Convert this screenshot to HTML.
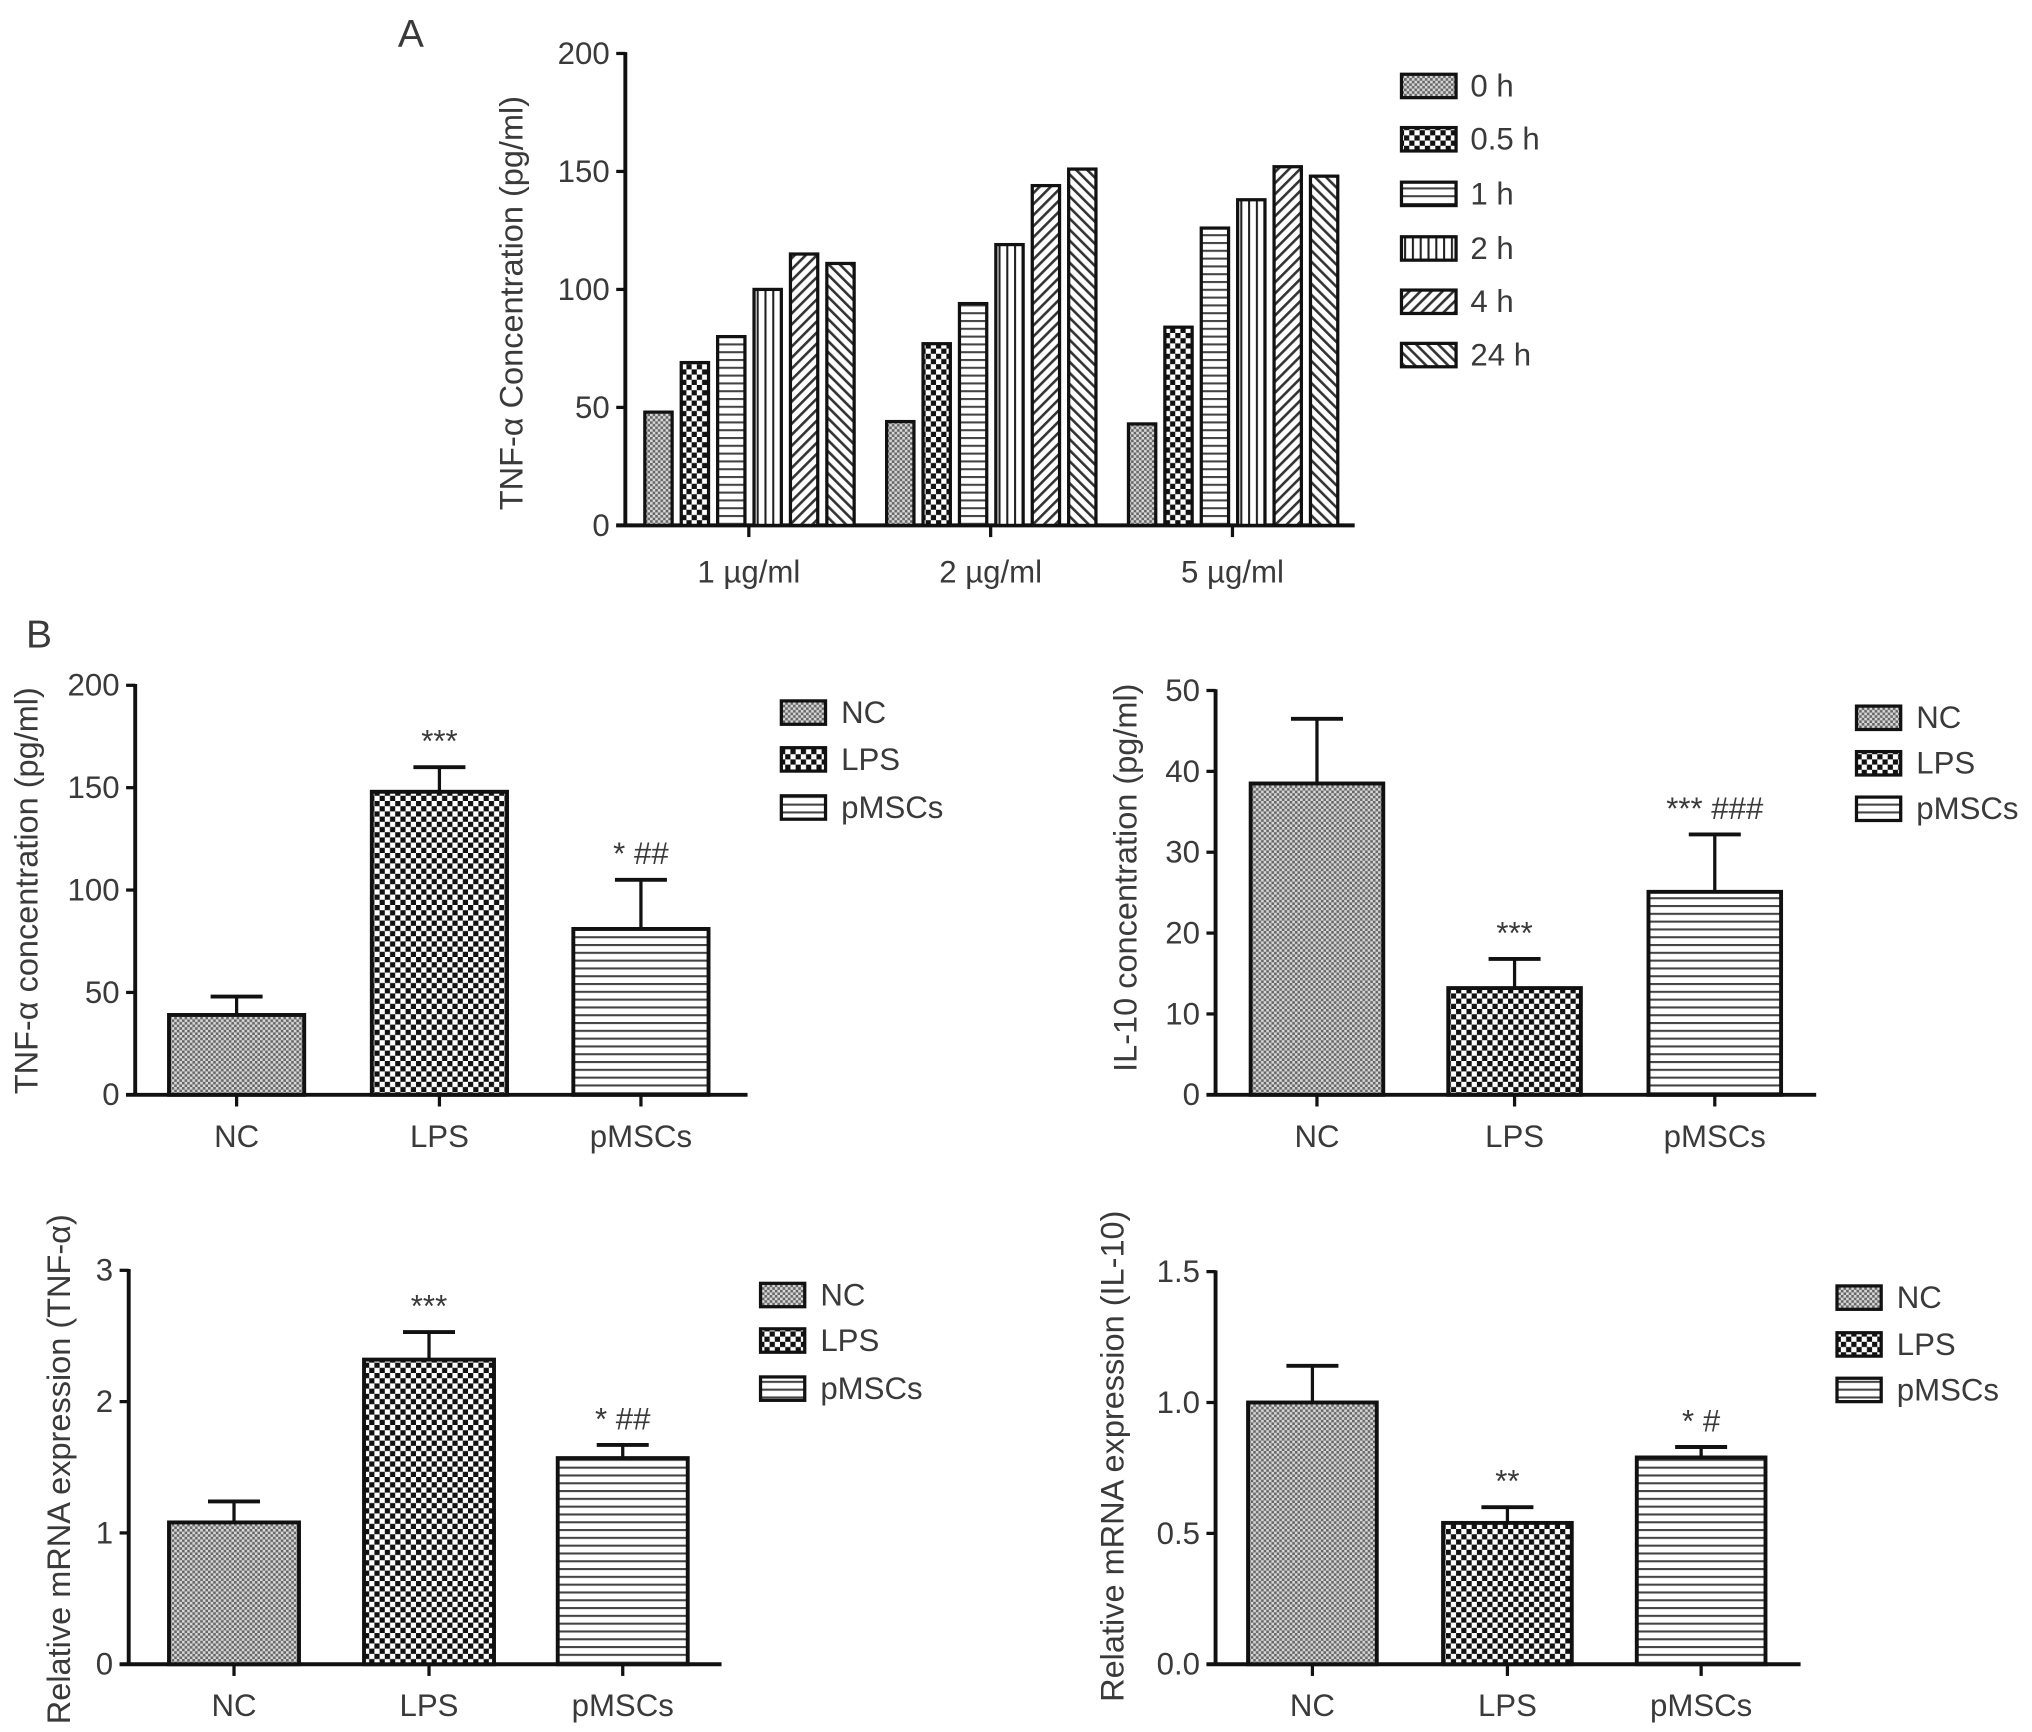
<!DOCTYPE html>
<html><head><meta charset="utf-8"><style>
html,body{margin:0;padding:0;background:#fff;}
svg{display:block;}
text{font-family:"Liberation Sans",sans-serif;fill:#3a3a3a;}
</style></head><body>
<svg id="fig" width="2032" height="1732" viewBox="0 0 1563 1332" xmlns="http://www.w3.org/2000/svg">
<defs>
<pattern id="p-fine" width="4" height="4" patternUnits="userSpaceOnUse">
<rect width="4" height="4" fill="#d8d8d8"/><rect width="2" height="2" fill="#666"/><rect x="2" y="2" width="2" height="2" fill="#666"/></pattern>
<pattern id="p-check" width="8" height="8" patternUnits="userSpaceOnUse">
<rect width="8" height="8" fill="#fff"/><rect width="4" height="4" fill="#111"/><rect x="4" y="4" width="4" height="4" fill="#111"/></pattern>
<pattern id="p-h" width="6" height="6" patternUnits="userSpaceOnUse">
<rect width="6" height="6" fill="#fff"/><rect width="6" height="1.6" fill="#444"/></pattern>
<pattern id="p-v" width="6" height="6" patternUnits="userSpaceOnUse">
<rect width="6" height="6" fill="#fff"/><rect width="1.6" height="6" fill="#222"/></pattern>
<pattern id="p-d1" width="6" height="6" patternUnits="userSpaceOnUse" patternTransform="rotate(45)">
<rect width="6" height="6" fill="#fff"/><rect width="2" height="6" fill="#333"/></pattern>
<pattern id="p-d2" width="6" height="6" patternUnits="userSpaceOnUse" patternTransform="rotate(-45)">
<rect width="6" height="6" fill="#fff"/><rect width="2" height="6" fill="#333"/></pattern>
</defs>
<text x="306" y="36" font-size="30">A</text>
<text x="20" y="498" font-size="30">B</text>
</svg>
<script>
// Panel A data
const aCategories = ["1 µg/ml", "2 µg/ml", "5 µg/ml"];
const aSeriesNames = ["0 h", "0.5 h", "1 h", "2 h", "4 h", "24 h"];
const aValues0h = [48, 44, 43];
const aValues05h = [69, 77, 84];
const aValues1h = [80, 94, 126];
const aValues2h = [100, 119, 138];
const aValues4h = [115, 144, 152];
const aValues24h = [111, 151, 148];
const aTicks = [0, 50, 100, 150, 200];

// Panel B data
const bCategories = ["NC", "LPS", "pMSCs"];
const b1Values = [39, 148, 81];
const b1ErrTop = [48, 160, 105];
const b1Sig = ["", "***", "* ##"];
const b1Ticks = [0, 50, 100, 150, 200];
const b2Values = [38.5, 13.2, 25.1];
const b2ErrTop = [46.5, 16.8, 32.2];
const b2Sig = ["", "***", "*** ###"];
const b2Ticks = [0, 10, 20, 30, 40, 50];
const b3Values = [1.08, 2.32, 1.57];
const b3ErrTop = [1.24, 2.53, 1.67];
const b3Sig = ["", "***", "* ##"];
const b3Ticks = [0, 1, 2, 3];
const b4Values = [1.0, 0.54, 0.79];
const b4ErrTop = [1.14, 0.60, 0.83];
const b4Sig = ["", "**", "* #"];
const b4Ticks = [0.0, 0.5, 1.0, 1.5];
const b4TickLabels = ["0.0", "0.5", "1.0", "1.5"];

const NS = "http://www.w3.org/2000/svg";
const svg = document.getElementById("fig");
const FS = 24, TFS = 25;
function mk(tag, attrs, parent) {
  const e = document.createElementNS(NS, tag);
  for (const k in attrs) e.setAttribute(k, attrs[k]);
  (parent || svg).appendChild(e);
  return e;
}
const fills = ["url(#p-fine)", "url(#p-check)", "url(#p-h)", "url(#p-v)", "url(#p-d1)", "url(#p-d2)"];

function axes(g, c, ticks, labels) {
  const y = v => c.y0 - (v - ticks[0]) / (ticks[ticks.length - 1] - ticks[0]) * (c.y0 - c.yTop);
  const ya = mk("line", {x1: c.ax, y1: c.yTop - 1, x2: c.ax, y2: c.y0, stroke: "#111", "stroke-width": 3}, g);
  
  
  const xa = mk("line", {x1: c.ax - 7, y1: c.y0, x2: c.xEnd, y2: c.y0, stroke: "#111", "stroke-width": 3}, g);
  
  
  ticks.forEach((t, i) => {
    const tl = mk("line", {x1: c.ax - 7, y1: y(t), x2: c.ax, y2: y(t), stroke: "#111", "stroke-width": 2.5}, g);
    
    
    const tx = mk("text", {x: c.ax - 12, y: y(t) + 8, "font-size": FS, "text-anchor": "end"}, g);
    tx.textContent = labels ? labels[i] : String(t);
    
    
  });
  const tt = mk("text", {x: 0, y: 0, "font-size": TFS, "text-anchor": "middle", transform: `translate(${c.titleX},${c.titleY}) rotate(-90)`}, g);
  tt.textContent = c.title;
  
  
  return y;
}

function legend(g, names, x, ys, tx) {
  names.forEach((n, i) => {
    const r = mk("rect", {x: x, y: ys[i] - 9, width: c_sw, height: 18, fill: fills[i], stroke: "#111", "stroke-width": 2.5}, g);
    
    
    const t = mk("text", {x: tx, y: ys[i] + 8, "font-size": FS}, g);
    t.textContent = n;
    
    
  });
}
let c_sw = 34;

// Panel A
(function () {
  const g = mk("g", {});
  
  
  const c = {ax: 481, y0: 404, yTop: 41, xEnd: 1042, title: "TNF-α Concentration (pg/ml)", titleX: 402, titleY: 233};
  const y = axes(g, c, aTicks);
  const series = [aValues0h, aValues05h, aValues1h, aValues2h, aValues4h, aValues24h];
  const centers = [576, 762, 948], bw = 21, pitch = 28;
  aCategories.forEach((cat, gi) => {
    series.forEach((s, si) => {
      const x = centers[gi] + (si - 3) * pitch + 4;
      const b = mk("rect", {x: x, y: y(s[gi]), width: bw, height: c.y0 - y(s[gi]), fill: fills[si], stroke: "#111", "stroke-width": 2.5}, g);
      
      
    });
    const tk = mk("line", {x1: centers[gi], y1: c.y0, x2: centers[gi], y2: c.y0 + 9, stroke: "#111", "stroke-width": 2.5}, g);
    
    
    const t = mk("text", {x: centers[gi], y: 448, "font-size": FS, "text-anchor": "middle"}, g);
    t.textContent = cat;
    
    
  });
  c_sw = 42;
  legend(g, aSeriesNames, 1078, [66, 107, 149, 191, 232, 273], 1131);
})();

function panelB(name, c, vals, errs, sig, ticks, tickLabels) {
  const g = mk("g", {});
  
  
  const y = axes(g, c, ticks, tickLabels);
  bCategories.forEach((cat, i) => {
    const x = c.bx[i], cx = x + c.bw / 2;
    const e = mk("line", {x1: cx, y1: y(vals[i]), x2: cx, y2: y(errs[i]), stroke: "#111", "stroke-width": 2.5}, g);
    
    
    const ec = mk("line", {x1: cx - 20, y1: y(errs[i]), x2: cx + 20, y2: y(errs[i]), stroke: "#111", "stroke-width": 3}, g);
    
    
    const b = mk("rect", {x: x, y: y(vals[i]), width: c.bw, height: c.y0 - y(vals[i]), fill: fills[i], stroke: "#111", "stroke-width": 3}, g);
    
    
    if (sig[i]) {
      const s = mk("text", {x: cx, y: y(errs[i]) - 12, "font-size": FS, "text-anchor": "middle"}, g);
      s.textContent = sig[i];
      
      
    }
    const tk = mk("line", {x1: cx, y1: c.y0, x2: cx, y2: c.y0 + 9, stroke: "#111", "stroke-width": 2.5}, g);
    
    
    const t = mk("text", {x: cx, y: c.y0 + 40, "font-size": FS, "text-anchor": "middle"}, g);
    t.textContent = cat;
    
    
  });
  c_sw = 34;
  legend(g, bCategories, c.lx, c.ly, c.lx + 46);
}

panelB("tnf-protein-chart", {ax: 104, y0: 842, yTop: 527, xEnd: 575, bx: [130, 286, 441], bw: 104, title: "TNF-α concentration (pg/ml)", titleX: 29, titleY: 685, lx: 601, ly: [548, 584, 621]}, b1Values, b1ErrTop, b1Sig, b1Ticks);
panelB("il10-protein-chart", {ax: 935, y0: 842, yTop: 531, xEnd: 1397, bx: [962, 1114, 1268], bw: 102, title: "IL-10 concentration (pg/ml)", titleX: 874, titleY: 675, lx: 1428, ly: [552, 587, 622]}, b2Values, b2ErrTop, b2Sig, b2Ticks);
panelB("tnf-mrna-chart", {ax: 99, y0: 1280, yTop: 977, xEnd: 555, bx: [130, 280, 429], bw: 100, title: "Relative mRNA expression (TNF-α)", titleX: 54, titleY: 1130, lx: 585, ly: [996, 1031, 1068]}, b3Values, b3ErrTop, b3Sig, b3Ticks);
panelB("il10-mrna-chart", {ax: 935, y0: 1280, yTop: 978, xEnd: 1385, bx: [960, 1110, 1259], bw: 99, title: "Relative mRNA expression (IL-10)", titleX: 864, titleY: 1120, lx: 1413, ly: [998, 1034, 1069]}, b4Values, b4ErrTop, b4Sig, b4Ticks, b4TickLabels);
</script>
</body></html>
